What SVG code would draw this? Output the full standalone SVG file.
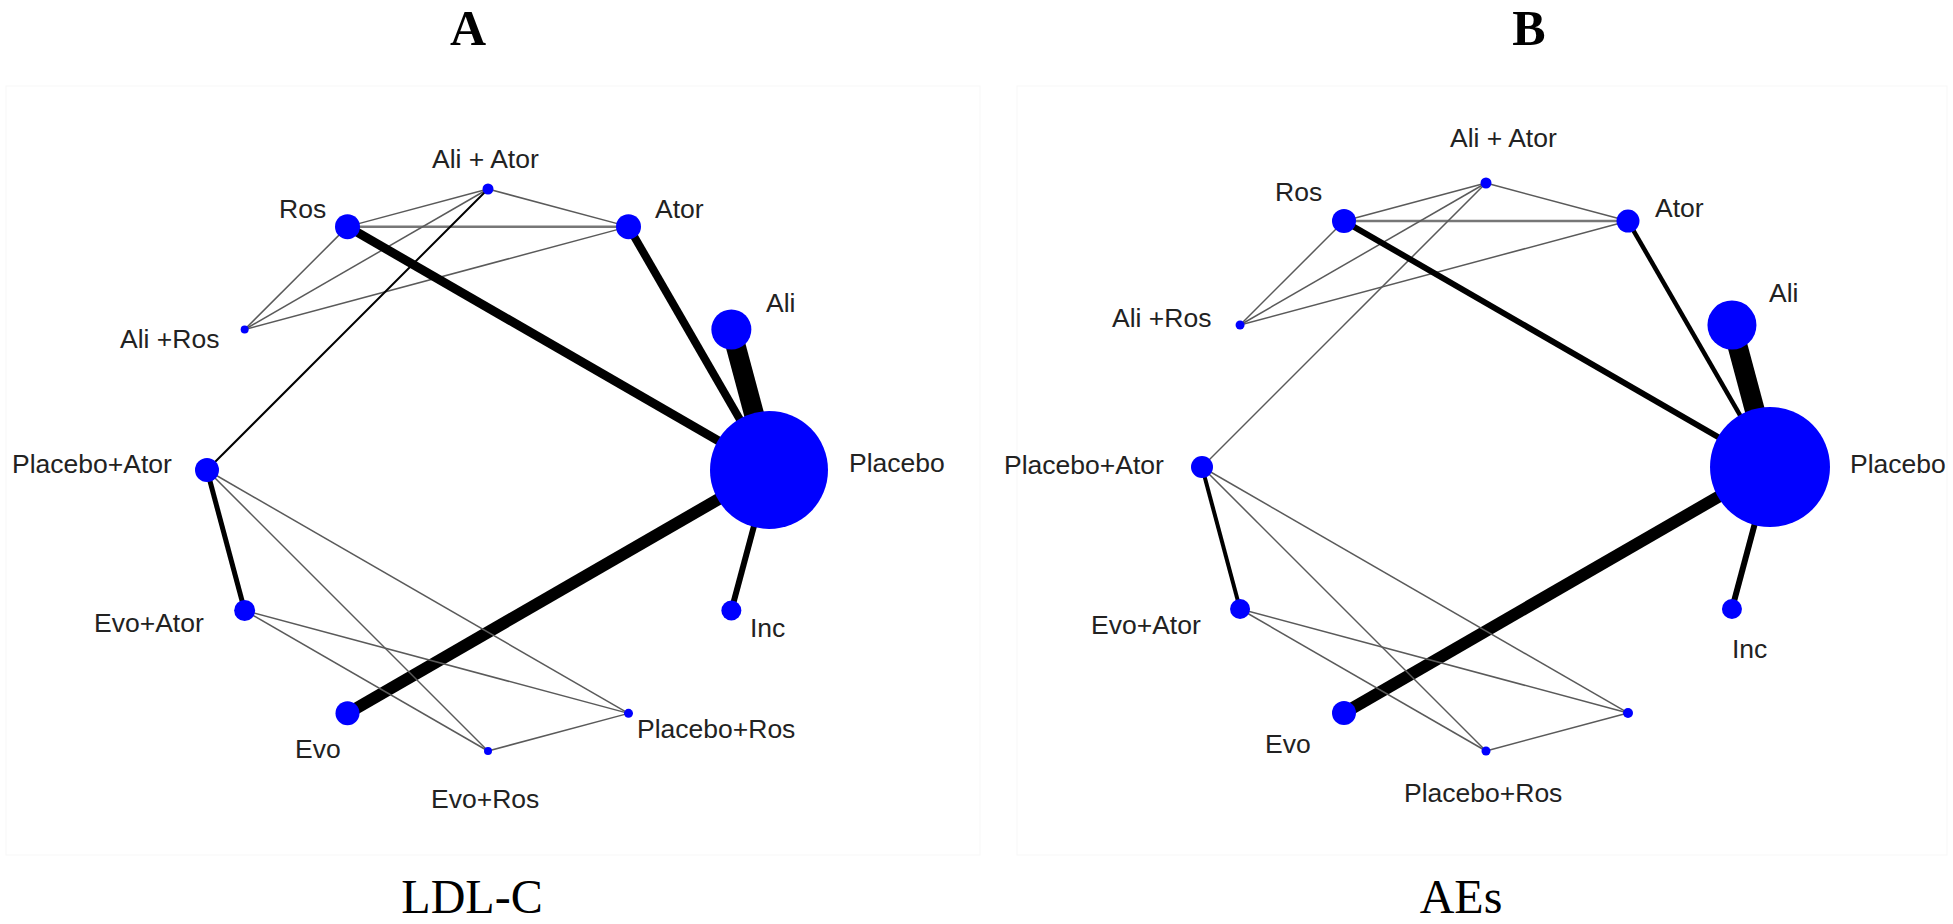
<svg xmlns="http://www.w3.org/2000/svg" width="1953" height="924" viewBox="0 0 1953 924">
<style>
.bg{fill:#ffffff}
.title{font-family:"Liberation Serif","Times New Roman",serif;font-size:50px;font-weight:bold;fill:#000;text-anchor:middle}
.cap{font-family:"Liberation Serif","Times New Roman",serif;font-size:48px;fill:#000;text-anchor:middle}
.lbl{font-family:"Liberation Sans",Arial,sans-serif;font-size:26.5px;fill:#222}
.nd{fill:#0000ff}
.e{stroke:#000;stroke-linecap:butt;fill:none}
.g{stroke:#5a5a5a;stroke-width:1.5;fill:none}
.g2{stroke:#777;stroke-width:2.5;fill:none}
.frame{fill:none;stroke:#f7f7f7;stroke-width:1}
</style>
<rect class="bg" x="0" y="0" width="1953" height="924"/>
<rect class="frame" x="6" y="86" width="974" height="769"/>
<rect class="frame" x="1017" y="86" width="930" height="769"/>

<text class="title" x="468" y="44.5">A</text>
<text class="title" x="1529" y="44.5">B</text>
<text class="cap" x="472" y="913">LDL-C</text>
<text class="cap" x="1461" y="913">AEs</text>

<!-- Panel A connectors -->
<g id="A-connectors">
  <line class="g" x1="347.5" y1="226.65" x2="488" y2="189"/>
  <line class="g2" x1="347.5" y1="226.65" x2="628.5" y2="226.65"/>
  <line class="g" x1="488" y1="189" x2="628.5" y2="226.65"/>
  <line class="g" x1="488" y1="189" x2="244.65" y2="329.5"/>
  <line class="g" x1="347.5" y1="226.65" x2="244.65" y2="329.5"/>
  <line class="g" x1="628.5" y1="226.65" x2="244.65" y2="329.5"/>
  <line class="e" stroke-width="2" x1="488" y1="189" x2="207" y2="470"/>
  <line class="e" stroke-width="9" x1="347.5" y1="226.65" x2="769" y2="470"/>
  <line class="e" stroke-width="8" x1="628.5" y1="226.65" x2="769" y2="470"/>
  <line class="e" stroke-width="20" x1="731.35" y1="329.5" x2="769" y2="470"/>
  <line class="e" stroke-width="12" x1="347.5" y1="713.35" x2="769" y2="470"/>
  <line class="e" stroke-width="6" x1="731.35" y1="610.5" x2="769" y2="470"/>
  <line class="e" stroke-width="5" x1="207" y1="470" x2="244.65" y2="610.5"/>
  <line class="g" x1="207" y1="470" x2="488" y2="751"/>
  <line class="g" x1="207" y1="470" x2="628.5" y2="713.35"/>
  <line class="g" x1="244.65" y1="610.5" x2="488" y2="751"/>
  <line class="g" x1="244.65" y1="610.5" x2="628.5" y2="713.35"/>
  <line class="g" x1="488" y1="751" x2="628.5" y2="713.35"/>
</g>

<!-- Panel A nodes -->
<g id="A-placebo"><circle class="nd" cx="769" cy="470" r="59"/><text class="lbl" x="849" y="472">Placebo</text></g>
<g id="A-ali"><circle class="nd" cx="731.35" cy="329.5" r="20"/><text class="lbl" x="766" y="312">Ali</text></g>
<g id="A-ator"><circle class="nd" cx="628.5" cy="226.65" r="12.5"/><text class="lbl" x="655" y="218">Ator</text></g>
<g id="A-ali-ator"><circle class="nd" cx="488" cy="189" r="5.5"/><text class="lbl" x="432" y="168">Ali + Ator</text></g>
<g id="A-ros"><circle class="nd" cx="347.5" cy="226.65" r="12.5"/><text class="lbl" x="279" y="218">Ros</text></g>
<g id="A-ali-ros"><circle class="nd" cx="244.65" cy="329.5" r="4"/><text class="lbl" x="120" y="348">Ali +Ros</text></g>
<g id="A-placebo-ator"><circle class="nd" cx="207" cy="470" r="12"/><text class="lbl" x="12" y="473">Placebo+Ator</text></g>
<g id="A-evo-ator"><circle class="nd" cx="244.65" cy="610.5" r="10.5"/><text class="lbl" x="94" y="632">Evo+Ator</text></g>
<g id="A-evo"><circle class="nd" cx="347.5" cy="713.35" r="12"/><text class="lbl" x="295" y="758">Evo</text></g>
<g id="A-evo-ros"><circle class="nd" cx="488" cy="751" r="4"/><text class="lbl" x="431" y="808">Evo+Ros</text></g>
<g id="A-placebo-ros"><circle class="nd" cx="628.5" cy="713.35" r="4.5"/><text class="lbl" x="637" y="738">Placebo+Ros</text></g>
<g id="A-inc"><circle class="nd" cx="731.35" cy="610.5" r="10"/><text class="lbl" x="750" y="637">Inc</text></g>

<!-- Panel B connectors -->
<g id="B-connectors">
  <line class="g" x1="1344" y1="221.05" x2="1486" y2="183"/>
  <line class="g2" x1="1344" y1="221.05" x2="1628" y2="221.05"/>
  <line class="g" x1="1486" y1="183" x2="1628" y2="221.05"/>
  <line class="g" x1="1486" y1="183" x2="1240.05" y2="325"/>
  <line class="g" x1="1344" y1="221.05" x2="1240.05" y2="325"/>
  <line class="g" x1="1628" y1="221.05" x2="1240.05" y2="325"/>
  <line class="g" x1="1486" y1="183" x2="1202" y2="467"/>
  <line class="e" stroke-width="6" x1="1344" y1="221.05" x2="1770" y2="467"/>
  <line class="e" stroke-width="4.5" x1="1628" y1="221.05" x2="1770" y2="467"/>
  <line class="e" stroke-width="20" x1="1731.95" y1="325" x2="1770" y2="467"/>
  <line class="e" stroke-width="12" x1="1344" y1="712.95" x2="1770" y2="467"/>
  <line class="e" stroke-width="6" x1="1731.95" y1="609" x2="1770" y2="467"/>
  <line class="e" stroke-width="4" x1="1202" y1="467" x2="1240.05" y2="609"/>
  <line class="g" x1="1202" y1="467" x2="1486" y2="751"/>
  <line class="g" x1="1202" y1="467" x2="1628" y2="712.95"/>
  <line class="g" x1="1240.05" y1="609" x2="1486" y2="751"/>
  <line class="g" x1="1240.05" y1="609" x2="1628" y2="712.95"/>
  <line class="g" x1="1486" y1="751" x2="1628" y2="712.95"/>
</g>

<!-- Panel B nodes -->
<g id="B-placebo"><circle class="nd" cx="1770" cy="467" r="60"/><text class="lbl" x="1850" y="473">Placebo</text></g>
<g id="B-ali"><circle class="nd" cx="1731.95" cy="325" r="24.5"/><text class="lbl" x="1769" y="302">Ali</text></g>
<g id="B-ator"><circle class="nd" cx="1628" cy="221.05" r="11.5"/><text class="lbl" x="1655" y="217">Ator</text></g>
<g id="B-ali-ator"><circle class="nd" cx="1486" cy="183" r="5.5"/><text class="lbl" x="1450" y="147">Ali + Ator</text></g>
<g id="B-ros"><circle class="nd" cx="1344" cy="221.05" r="12"/><text class="lbl" x="1275" y="201">Ros</text></g>
<g id="B-ali-ros"><circle class="nd" cx="1240.05" cy="325" r="4.5"/><text class="lbl" x="1112" y="327">Ali +Ros</text></g>
<g id="B-placebo-ator"><circle class="nd" cx="1202" cy="467" r="11"/><text class="lbl" x="1004" y="474">Placebo+Ator</text></g>
<g id="B-evo-ator"><circle class="nd" cx="1240.05" cy="609" r="10"/><text class="lbl" x="1091" y="634">Evo+Ator</text></g>
<g id="B-evo"><circle class="nd" cx="1344" cy="712.95" r="12"/><text class="lbl" x="1265" y="753">Evo</text></g>
<g id="B-placebo-ros"><circle class="nd" cx="1486" cy="751" r="4.5"/><text class="lbl" x="1404" y="802">Placebo+Ros</text></g>
<g id="B-node-300"><circle class="nd" cx="1628" cy="712.95" r="5"/></g>
<g id="B-inc"><circle class="nd" cx="1731.95" cy="609" r="10"/><text class="lbl" x="1732" y="658">Inc</text></g>
</svg>
